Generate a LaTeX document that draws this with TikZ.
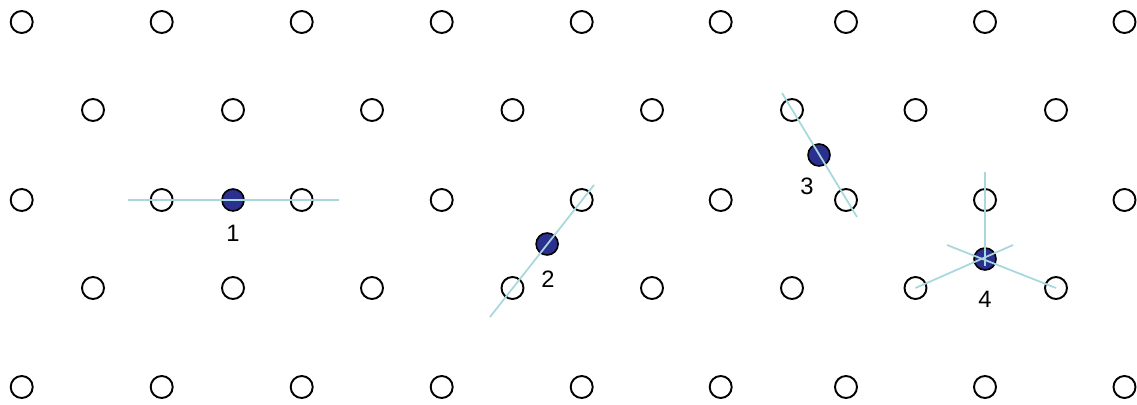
\documentclass[tikz,border=0pt]{standalone}
\usepackage{fontspec}
\setsansfont{Liberation Sans}
\usetikzlibrary{positioning, calc}
\definecolor{cnavy}{HTML}{2B2F8E}
\definecolor{ccyan}{HTML}{A8D8DE}
\tikzset{
  every picture/.style={font=\sffamily, line width=1.1pt},
  site/.style={circle, draw=black, inner sep=0pt, minimum size=0.44cm},
  atom/.style={site, fill=cnavy, line width=0.9pt},
  bond/.style={draw=ccyan, line width=1pt},
  tag/.style={font=\sffamily\fontsize{13.5}{16}\selectfont, inner sep=0pt},
}

\begin{document}
\begin{tikzpicture}[x=0.02cm, y=-0.02cm]
  \useasboundingbox (0,0) rectangle (1137,405);
  % lattice sites
  \foreach \y/\r in {22/a, 200/c, 387/e}
    \foreach \x [count=\i] in {21.7,161.7,301.7,441.7,581.7,720.7,846,985,1124.5}
      \node[site] (\r\i) at (\x,\y) {};
  \foreach \y/\r in {110/b, 288/d}
    \foreach \x [count=\i] in {93,233,372,512.5,652,792,915.5,1056}
      \node[site] (\r\i) at (\x,\y) {};
  % defects
  \node[atom] (def1) at (233,200) {};
  \node[atom] (def2) at ($(d4)!0.5!(c5)$) {};
  \node[atom] (def3) at ($(b6)!0.5!(c7)$) {};
  \node[atom] (def4) at (985,259) {};
  % bond lines
  \coordinate (e1a) at (128,200);
  \coordinate (e1b) at (339,200);
  \coordinate (e2a) at (490,317);
  \coordinate (e2b) at (594,185);
  \coordinate (e3a) at (782,93);
  \coordinate (e3b) at (857,217);
  \coordinate (e4a) at (985,172);
  \coordinate (e4b) at (985,266);
  \coordinate (e4c) at (1013,245);
  \coordinate (e4d) at (947,245);
  \draw[bond] (e1a) -- (e1b);
  \draw[bond] (e2a) -- (e2b);
  \draw[bond] (e3a) -- (e3b);
  \draw[bond] (e4a) -- (e4b);
  \draw[bond] (d7.center) -- (e4c);
  \draw[bond] (d8.center) -- (e4d);
  % labels
  \node[tag] (lab1) at (233,233) {1};
  \node[tag] (lab2) at (548,279) {2};
  \node[tag] (lab3) at (807,186) {3};
  \node[tag] (lab4) at (985,299) {4};
\end{tikzpicture}
\end{document}
